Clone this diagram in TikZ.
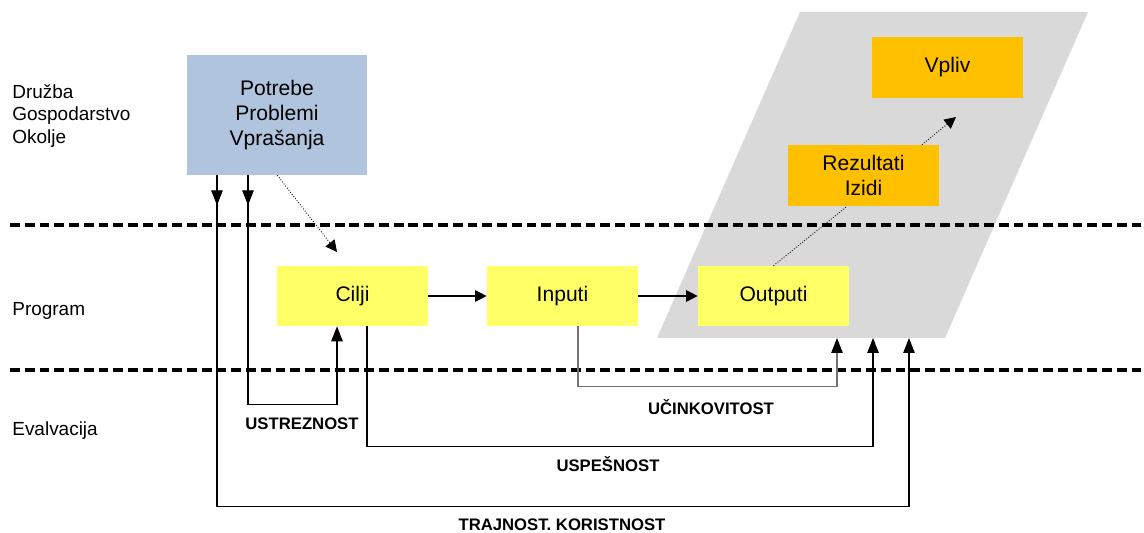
\documentclass[tikz,border=0pt]{standalone}
\usepackage{fontspec}
\setmainfont{Liberation Sans}
\usetikzlibrary{arrows.meta,decorations.markings}
\definecolor{panelgray}{HTML}{D9D9D9}
\definecolor{needblue}{HTML}{B0C4DE}
\definecolor{progyellow}{HTML}{FFFF66}
\definecolor{effectorange}{HTML}{FFC000}
\pgfdeclarelayer{bg}
\pgfsetlayers{bg,main}
\begin{document}
\begin{tikzpicture}[x=0.02cm,y=-0.02cm,
  box/.style={inner sep=0pt,align=center,font=\fontsize{12}{14.2}\selectfont},
  progbox/.style={box,fill=progyellow,minimum width=3.02cm,minimum height=1.2cm},
  effbox/.style={box,fill=effectorange,minimum width=3.02cm,minimum height=1.22cm},
  side/.style={anchor=west,align=left,inner sep=0pt,font=\fontsize{10.8}{13}\selectfont},
  crit/.style={font=\fontsize{9.5}{11}\selectfont\bfseries},
  tip/.style={-{Triangle[length=3mm,width=2.3mm,color=black]}},
  htip/.style={-{Triangle[length=2.3mm,width=2.3mm]}},
  fbline/.style={line width=0.6pt},
  downmark/.style={postaction={decorate},decoration={markings,
    mark=at position 0.6cm with {\arrow{Triangle[length=3mm,width=2.3mm]}}}},
  level/.style={line width=2pt,dash pattern=on 5.6pt off 2.8pt},
  dotline/.style={densely dotted,line width=0.5pt}]
\useasboundingbox (0,0) rectangle (1144,533);

\begin{pgfonlayer}{bg}
\fill[panelgray] (800,12) -- (1088,12) -- (945,338) -- (657,338) -- cycle;
\draw[level] (10,225) -- (1144,225);
\draw[level] (10,370) -- (1144,370);
\end{pgfonlayer}

% levels
\node[side] (druzba) at (12,116) {Družba\\Gospodarstvo\\Okolje};
\node[side] (program) at (12,311) {Program};
\node[side] (evalvacija) at (12,431) {Evalvacija};

% boxes
\node[box,fill=needblue,minimum width=3.6cm,minimum height=2.4cm] (potrebe) at (277,115) {Potrebe\\Problemi\\Vprašanja};
\node[progbox] (cilji) at (352.5,296) {Cilji};
\node[progbox] (inputi) at (562.5,296) {Inputi};
\node[progbox] (outputi) at (773.5,296) {Outputi};
\node[effbox] (rezultati) at (863.5,175.5) {Rezultati\\Izidi};
\node[effbox] (vpliv) at (947.5,67.5) {Vpliv};

\coordinate (ciljitip) at (337,252);
\coordinate (vplivtip) at (956,117);
\coordinate (uctip) at (837,338);
\coordinate (ustip) at (873,338);
\coordinate (trtip) at (909,338);

\draw[htip,fbline] (cilji) -- (inputi);
\draw[htip,fbline] (inputi) -- (outputi);
\begin{pgfonlayer}{bg}
\draw[dotline] (outputi.north) -- (rezultati.south -| 847,0);
\end{pgfonlayer}
\draw[dotline,htip] (rezultati.north -| 922,0) -- (vplivtip);
\draw[dotline,htip] ([xshift=-1.8cm]potrebe.south east) -- (ciljitip);

% evaluation loops
\draw[fbline,tip,downmark] ([xshift=-0.58cm]potrebe.south) -- ++(0,229) -| ([xshift=-0.31cm]cilji.south);
\draw[fbline,tip,downmark] ([xshift=-1.2cm]potrebe.south) -- ++(0,331) -| (trtip);
\draw[fbline,tip] ([xshift=0.29cm]cilji.south) -- ++(0,120) -| (ustip);
\draw[fbline,tip,draw=black!55] ([xshift=0.31cm]inputi.south) -- ++(0,60) -| (uctip);

\node[crit] (ustreznost) at (302,424) {USTREZNOST};
\node[crit] (ucinkovitost) at (711,407) {UČINKOVITOST};
\node[crit] (uspesnost) at (608,464) {USPEŠNOST};
\node[crit] (trajnost) at (562,525) {TRAJNOST. KORISTNOST};
\end{tikzpicture}
\end{document}
